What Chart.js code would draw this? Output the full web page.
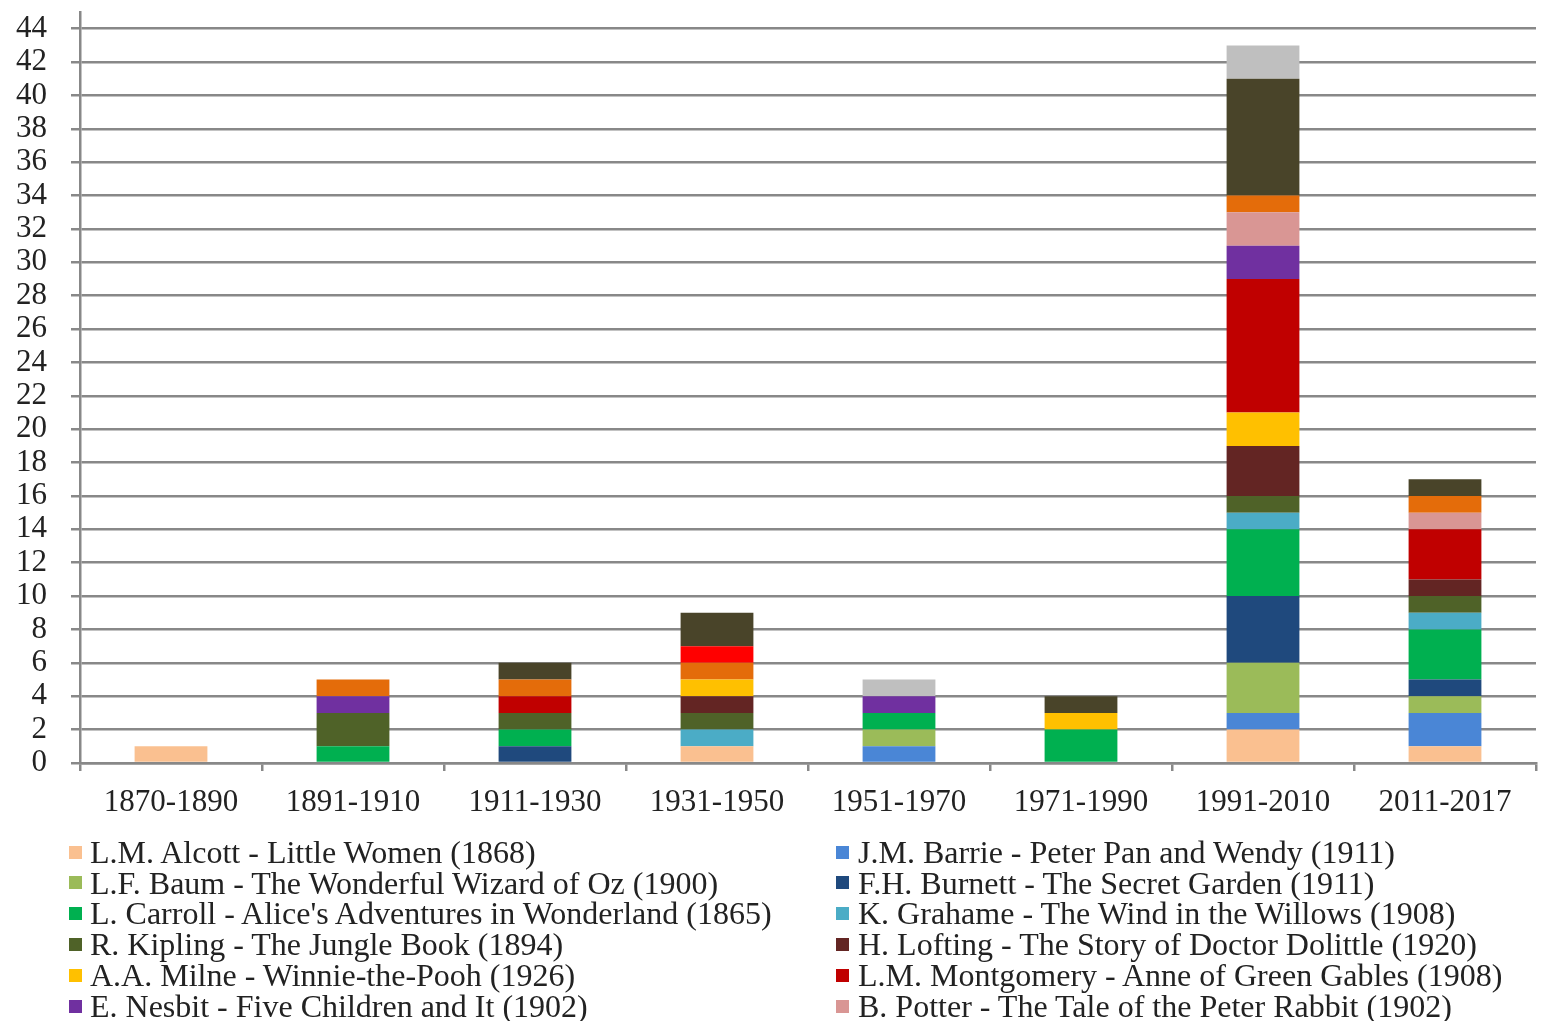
<!DOCTYPE html>
<html>
<head>
<meta charset="utf-8">
<title>Editions by period</title>
<script src="https://cdn.jsdelivr.net/npm/chart.js@4.4.1/dist/chart.umd.min.js"></script>
<style>
  html, body { margin: 0; padding: 0; background: #ffffff; width: 1542px; height: 1021px; overflow: hidden; }
  #chartBox { position: absolute; left: 0; top: 0; width: 1542px; height: 840px; }
  #legend { position: absolute; left: 0; top: 0; width: 1542px; height: 1021px; pointer-events: none; }
  .lg-box { position: absolute; width: 13px; height: 13px; }
  .lg-text { position: absolute; white-space: nowrap; font-family: "Liberation Serif", "Times New Roman", serif;
             font-size: 32px; line-height: 32px; color: #222222; }
</style>
</head>
<body>
<div id="chartBox"><canvas id="chart" width="1542" height="840"></canvas></div>
<div id="legend"></div>
<script>
// Periods on the horizontal axis
const periods = ['1870-1890', '1891-1910', '1911-1930', '1931-1950', '1951-1970', '1971-1990', '1991-2010', '2011-2017'];

// Vertical axis tick labels
const yTicks = [0, 2, 4, 6, 8, 10, 12, 14, 16, 18, 20, 22, 24, 26, 28, 30, 32, 34, 36, 38, 40, 42, 44];

// Counts per period, one array per book
const alcott     = [1, 0, 0, 1, 0, 0, 2, 1];
const barrie     = [0, 0, 0, 0, 1, 0, 1, 2];
const baum       = [0, 0, 0, 0, 1, 0, 3, 1];
const burnett    = [0, 0, 1, 0, 0, 0, 4, 1];
const carroll    = [0, 1, 1, 0, 1, 2, 4, 3];
const grahame    = [0, 0, 0, 1, 0, 0, 1, 1];
const kipling    = [0, 2, 1, 1, 0, 0, 1, 1];
const lofting    = [0, 0, 0, 1, 0, 0, 3, 1];
const milne      = [0, 0, 0, 1, 0, 1, 2, 0];
const montgomery = [0, 0, 1, 0, 0, 0, 8, 3];
const nesbit     = [0, 1, 0, 0, 1, 0, 2, 0];
const potter     = [0, 0, 0, 0, 0, 0, 2, 1];
const stevenson  = [0, 1, 1, 1, 0, 0, 1, 1];
const travers    = [0, 0, 0, 1, 0, 0, 0, 0];
const twain      = [0, 0, 1, 2, 0, 1, 7, 1];
const wilde      = [0, 0, 0, 0, 1, 0, 2, 0];

// Book labels, in stacking / legend order
const bookLabels = [
  'L.M. Alcott - Little Women (1868)',
  'J.M. Barrie - Peter Pan and Wendy (1911)',
  'L.F. Baum - The Wonderful Wizard of Oz (1900)',
  'F.H. Burnett - The Secret Garden (1911)',
  "L. Carroll - Alice's Adventures in Wonderland (1865)",
  'K. Grahame - The Wind in the Willows (1908)',
  'R. Kipling - The Jungle Book (1894)',
  'H. Lofting - The Story of Doctor Dolittle (1920)',
  'A.A. Milne - Winnie-the-Pooh (1926)',
  'L.M. Montgomery - Anne of Green Gables (1908)',
  'E. Nesbit - Five Children and It (1902)',
  'B. Potter - The Tale of the Peter Rabbit (1902)',
  'R.L. Stevenson - Treasure Island (1883)',
  'P.L. Travers - Mary Poppins (1934)',
  'M. Twain - The Adventures of Tom Sawyer (1876)',
  'O. Wilde - The Happy Prince and Other Tales (1888)'
];
const bookValues = [alcott, barrie, baum, burnett, carroll, grahame, kipling, lofting,
                    milne, montgomery, nesbit, potter, stevenson, travers, twain, wilde];

// Fill colours, same order as the labels
const bookColors = ['#FAC090', '#4A86D6', '#9BBB59', '#1F497D', '#00B050', '#4BACC6', '#4F6228', '#632523',
                    '#FFC000', '#C00000', '#7030A0', '#D99694', '#E46C0A', '#FF0000', '#494429', '#BFBFBF'];

const SERIF = '"Liberation Serif", "Times New Roman", serif';
const GRID = '#888888';

const datasets = bookLabels.map((label, i) => ({
  label: label,
  data: bookValues[i],
  backgroundColor: bookColors[i],
  borderWidth: 0,
  categoryPercentage: 0.4,
  barPercentage: 1.0
}));

new Chart(document.getElementById('chart'), {
  type: 'bar',
  data: { labels: periods, datasets: datasets },
  options: {
    responsive: false,
    devicePixelRatio: 1,
    animation: false,
    layout: { padding: { top: 12, right: 6, left: 0, bottom: 0 } },
    plugins: { legend: { display: false }, tooltip: { enabled: false } },
    scales: {
      x: {
        stacked: true,
        grid: { offset: true, drawOnChartArea: false, drawTicks: true, tickLength: 8, color: GRID, lineWidth: 2.5 },
        border: { display: true, color: GRID, width: 2.5 },
        ticks: { font: { family: SERIF, size: 31 }, color: '#222222', padding: 13, maxRotation: 0, autoSkip: false },
        afterFit: (s) => { s.height = 77; s.paddingLeft = 0; s.paddingRight = 0; }
      },
      y: {
        stacked: true,
        min: 0,
        max: 45,
        afterBuildTicks: (s) => { s.ticks = yTicks.map(v => ({ value: v })); },
        grid: { color: GRID, lineWidth: 2.5, tickLength: 9, drawTicks: true },
        border: { display: true, color: GRID, width: 2.5 },
        ticks: { font: { family: SERIF, size: 31 }, color: '#222222', padding: 24, autoSkip: false },
        afterFit: (s) => { s.width = 80; s.paddingTop = 0; s.paddingBottom = 0; }
      }
    }
  }
});

// Two-column legend below the chart
const legend = document.getElementById('legend');
bookLabels.forEach((label, i) => {
  const row = Math.floor(i / 2);
  const col = i % 2;
  const cy = 852 + row * 30.8;
  const box = document.createElement('div');
  box.className = 'lg-box';
  box.style.left = (col ? 836 : 69) + 'px';
  box.style.top = (cy - 6.5) + 'px';
  box.style.background = bookColors[i];
  legend.appendChild(box);
  const txt = document.createElement('div');
  txt.className = 'lg-text';
  txt.style.left = (col ? 858 : 90) + 'px';
  txt.style.top = (cy - 16.2) + 'px';
  txt.textContent = label;
  legend.appendChild(txt);
});
</script>
</body>
</html>
